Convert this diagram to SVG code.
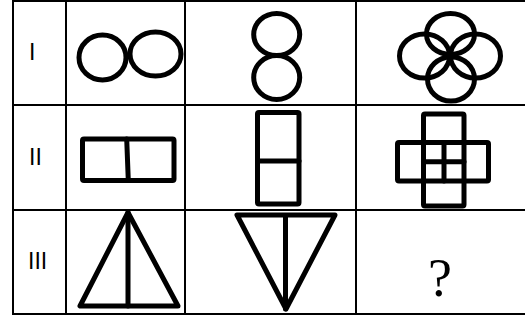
<svg xmlns="http://www.w3.org/2000/svg" width="525" height="320" viewBox="0 0 525 320">
<style>
.grid{stroke:#000;stroke-width:2;fill:none}
.fig{stroke:#000;stroke-width:5;fill:none;stroke-linejoin:round;stroke-linecap:round}
.lbl{font-family:"Liberation Sans",Arial,sans-serif;font-size:23px;fill:#000}
.q{font-family:"Liberation Serif","Times New Roman",serif;font-size:54px;fill:#000}
</style>
<rect width="525" height="320" fill="#fff"/>
<g id="grid" class="grid">
<line x1="13" y1="1" x2="525" y2="1"/>
<line x1="13" y1="105" x2="525" y2="105"/>
<line x1="13" y1="210" x2="525" y2="210"/>
<line x1="13" y1="314" x2="525" y2="314"/>
<line x1="13" y1="0" x2="13" y2="315"/>
<line x1="66" y1="0" x2="66" y2="315"/>
<line x1="185" y1="0" x2="185" y2="315"/>
<line x1="356" y1="0" x2="356" y2="315"/>
</g>
<g id="labels">
<text class="lbl" x="29" y="60">I</text>
<text class="lbl" x="29" y="165">II</text>
<text class="lbl" x="28" y="269">III</text>
</g>
<g id="r1c1" class="fig">
<ellipse cx="102.5" cy="57.5" rx="23.5" ry="22.5"/>
<ellipse cx="155.5" cy="54" rx="25.5" ry="22"/>
</g>
<g id="r1c2" class="fig">
<ellipse cx="276.7" cy="34.5" rx="23" ry="21"/>
<ellipse cx="276.7" cy="77.5" rx="23" ry="22"/>
</g>
<g id="r1c3" class="fig">
<ellipse cx="450.5" cy="34" rx="24" ry="20.5"/>
<ellipse cx="424.5" cy="56" rx="25" ry="22"/>
<ellipse cx="475.5" cy="56" rx="25" ry="22"/>
<ellipse cx="451" cy="79" rx="23.5" ry="22"/>
</g>
<g id="r2c1" class="fig">
<rect x="82.5" y="139" width="91.5" height="41.5" rx="1.5"/>
<line x1="126.7" y1="139" x2="128.3" y2="180.5"/>
</g>
<g id="r2c2" class="fig">
<rect x="257.5" y="112.5" width="41.5" height="91.5" rx="1.5"/>
<line x1="257.5" y1="161" x2="299" y2="161"/>
</g>
<g id="r2c3" class="fig">
<rect x="423.5" y="114" width="40.5" height="92" rx="1.5"/>
<rect x="397.5" y="142.5" width="91" height="38.5" rx="1.5"/>
<line x1="444" y1="142.5" x2="444" y2="181"/>
<line x1="423.5" y1="161.7" x2="464" y2="161.7"/>
</g>
<g id="r3c1" class="fig">
<polygon points="128,212.5 80,306 178,306"/>
<line x1="128" y1="212.5" x2="128" y2="306"/>
</g>
<g id="r3c2" class="fig">
<polygon points="237,215 335,215 286,309"/>
<line x1="285.5" y1="217" x2="285.5" y2="309"/>
</g>
<g id="r3c3">
<text class="q" x="440" y="296" text-anchor="middle">?</text>
</g>
</svg>
